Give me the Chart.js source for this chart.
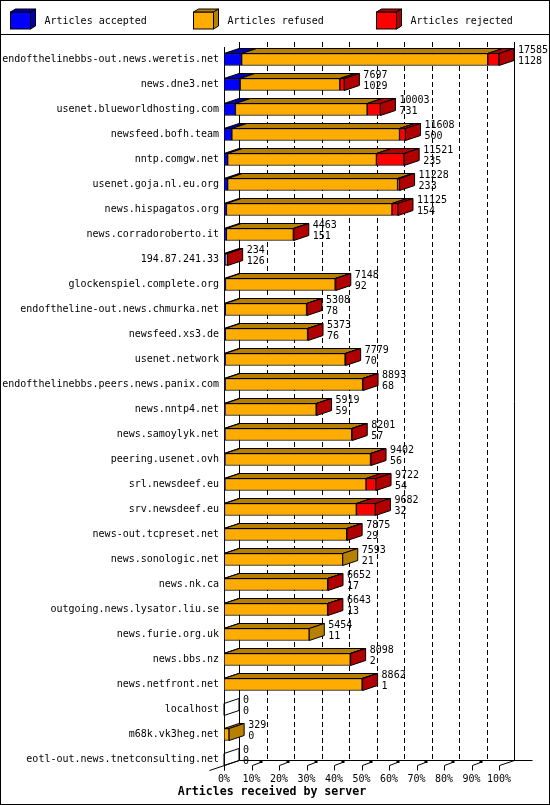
<!DOCTYPE html>
<html>
<head>
<meta charset="utf-8">
<script src="https://cdn.jsdelivr.net/npm/chart.js@4.4.0/dist/chart.umd.min.js"></script>
<style>
  html, body { margin: 0; padding: 0; background: #fff; }
  canvas { display: block; }
</style>
</head>
<body>
<canvas id="chart" width="550" height="805"></canvas>
<script>
// 数据
const servers = [
  'endofthelinebbs-out.news.weretis.net', 'news.dne3.net', 'usenet.blueworldhosting.com',
  'newsfeed.bofh.team', 'nntp.comgw.net', 'usenet.goja.nl.eu.org', 'news.hispagatos.org',
  'news.corradoroberto.it', '194.87.241.33', 'glockenspiel.complete.org',
  'endoftheline-out.news.chmurka.net', 'newsfeed.xs3.de', 'usenet.network',
  'endofthelinebbs.peers.news.panix.com', 'news.nntp4.net', 'news.samoylyk.net',
  'peering.usenet.ovh', 'srl.newsdeef.eu', 'srv.newsdeef.eu', 'news-out.tcpreset.net',
  'news.sonologic.net', 'news.nk.ca', 'outgoing.news.lysator.liu.se', 'news.furie.org.uk',
  'news.bbs.nz', 'news.netfront.net', 'localhost', 'm68k.vk3heg.net',
  'eotl-out.news.tnetconsulting.net'
];
const totals = [17585, 7697, 10003, 11608, 11521, 11228, 11125, 4463, 234, 7148,
  5308, 5373, 7779, 8893, 5919, 8201, 9402, 9722, 9682, 7875,
  7593, 6652, 6643, 5454, 8098, 8862, 0, 329, 0];
const accepted = [1128, 1029, 731, 500, 235, 233, 154, 151, 126, 92,
  78, 76, 70, 68, 59, 57, 56, 54, 32, 29,
  21, 17, 13, 11, 2, 1, 0, 0, 0];
// 拒绝数按图中红色段宽度估计
const rejected = [720, 290, 850, 385, 1775, 130, 385, 30, 30, 40,
  30, 30, 35, 30, 25, 30, 35, 640, 1220, 30,
  0, 25, 20, 0, 25, 30, 0, 0, 0];
const refused = totals.map((t, i) => Math.max(0, t - accepted[i] - rejected[i]));
const pctTicks = ['0%', '10%', '20%', '30%', '40%', '50%', '60%', '70%', '80%', '90%', '100%'];
const seriesNames = ['Articles accepted', 'Articles refused', 'Articles rejected'];

const faceColors = ['#0000ff', '#ffac00', '#ff0000'];
const shadeColors = ['#0000b0', '#b88000', '#b00000'];
const FONT = "'DejaVu Sans Mono', monospace";
const DX = 15, DY = 5;

Chart.defaults.font.family = FONT;
Chart.defaults.font.size = 10;
Chart.defaults.color = '#000';

// 多边形
function poly(ctx, pts, fill) {
  ctx.beginPath();
  ctx.moveTo(pts[0][0], pts[0][1]);
  for (let i = 1; i < pts.length; i++) ctx.lineTo(pts[i][0], pts[i][1]);
  ctx.closePath();
  if (fill) { ctx.fillStyle = fill; ctx.fill(); }
  ctx.strokeStyle = '#000';
  ctx.lineWidth = 1;
  ctx.stroke();
}

function line(ctx, x1, y1, x2, y2, dash) {
  ctx.save();
  ctx.setLineDash(dash || []);
  ctx.beginPath();
  ctx.moveTo(x1, y1);
  ctx.lineTo(x2, y2);
  ctx.strokeStyle = '#000';
  ctx.lineWidth = 1;
  ctx.stroke();
  ctx.restore();
}

// 3D 效果、图例、标题
const depthPlugin = {
  id: 'depth3d',
  beforeDraw(chart) {
    const ctx = chart.ctx;
    ctx.save();
    ctx.fillStyle = '#fff';
    ctx.fillRect(0, 0, chart.width, chart.height);
    ctx.restore();
  },
  beforeDatasetsDraw(chart) {
    const ctx = chart.ctx;
    const pct = chart.scales.pct;
    const area = chart.chartArea;
    const backBottom = 760.5, frontBottom = 765.5;
    ctx.save();
    pctTicks.forEach((_, i) => {
      const xf = Math.round(pct.getPixelForValue(i * 10)) + 0.5;
      const xb = xf + DX;
      const solid = i === 0 || i === pctTicks.length - 1;
      line(ctx, xb, 42, xb, backBottom, solid ? [] : [5, 3]);
      // 小刻度
      line(ctx, xf, frontBottom, xf, 770.5);
      if (i > 0 && i < pctTicks.length - 1) {
        line(ctx, xf, frontBottom, xf + 8, 762.5);
        ctx.fillStyle = '#000';
        ctx.fillRect(xf + 7, 760, 3, 3);
      }
    });
    const x0 = Math.round(pct.getPixelForValue(0)) + 0.5;
    const x100 = Math.round(pct.getPixelForValue(100)) + 0.5;
    line(ctx, x0 + DX, backBottom, x100 + DX + 18, backBottom);
    line(ctx, x0, area.top, x0, 770.5);
    line(ctx, x0 - DX, 770.5, x0 + DX, backBottom);
    line(ctx, x100, frontBottom, x100 + DX, backBottom);
    ctx.restore();
  },
  afterDatasetsDraw(chart) {
    const ctx = chart.ctx;
    const metas = [0, 1, 2].map(k => chart.getDatasetMeta(k));
    const series = [accepted, refused, rejected];
    ctx.save();
    servers.forEach((_, i) => {
      let lastK = -1;
      let y = 0, h = 12, xStart = chart.scales.x.getPixelForValue(0);
      for (let k = 0; k < 3; k++) {
        const el = metas[k].data[i].getProps(['x', 'y', 'base', 'height'], true);
        y = el.y; h = el.height;
        if (series[k][i] > 0) {
          const top = y - h / 2;
          const l = Math.min(el.x, el.base), r = Math.max(el.x, el.base);
          poly(ctx, [[l, top], [r, top], [r + DX, top - DY], [l + DX, top - DY]], shadeColors[k]);
          lastK = k;
        }
      }
      const top = y - h / 2, bottom = y + h / 2;
      const xe = lastK >= 0 ? metas[lastK].data[i].getProps(['x'], true).x : xStart;
      poly(ctx, [[xe, top], [xe + DX, top - DY], [xe + DX, bottom - DY], [xe, bottom]],
        lastK >= 0 ? shadeColors[lastK] : null);
      // 数值标签
      ctx.fillStyle = '#000';
      ctx.font = '10px ' + FONT;
      ctx.textAlign = 'left';
      ctx.textBaseline = 'middle';
      ctx.fillText(String(totals[i]), xe + DX + 4, y - 9.5);
      ctx.fillText(String(accepted[i]), xe + DX + 4, y + 1.5);
    });
    ctx.restore();
  },
  afterDraw(chart) {
    const ctx = chart.ctx;
    ctx.save();
    // 图例
    const legendX = [10.5, 193.5, 376.5];
    chart.data.datasets.forEach((ds, k) => {
      const x = legendX[k], y = 12;
      ctx.fillStyle = faceColors[k];
      ctx.fillRect(x, y, 20, 17);
      ctx.strokeStyle = '#000';
      ctx.lineWidth = 1;
      ctx.strokeRect(x, y, 20, 17);
      poly(ctx, [[x, y], [x + 5, y - 3], [x + 25, y - 3], [x + 20, y]], shadeColors[k]);
      poly(ctx, [[x + 20, y], [x + 25, y - 3], [x + 25, y + 14], [x + 20, y + 17]], shadeColors[k]);
      ctx.fillStyle = '#000';
      ctx.font = '10px ' + FONT;
      ctx.textAlign = 'left';
      ctx.textBaseline = 'middle';
      ctx.fillText(ds.label, x + 34, 21);
    });
    line(ctx, 0, 34.5, chart.width, 34.5);
    // 标题
    ctx.fillStyle = '#000';
    ctx.font = 'bold 11.6px ' + FONT;
    ctx.textAlign = 'center';
    ctx.textBaseline = 'middle';
    ctx.fillText('Articles received by server', 272, 791.5);
    // 外框
    ctx.strokeStyle = '#000';
    ctx.lineWidth = 1;
    ctx.strokeRect(0.5, 0.5, chart.width - 1, chart.height - 1);
    ctx.restore();
  }
};

const seriesData = [accepted, refused, rejected];

new Chart(document.getElementById('chart'), {
  type: 'bar',
  data: {
    labels: servers,
    datasets: seriesNames.map((name, k) => ({
      label: name,
      data: seriesData[k],
      backgroundColor: faceColors[k],
      borderColor: '#000',
      borderWidth: 1,
      borderSkipped: false,
      barThickness: 12
    }))
  },
  options: {
    indexAxis: 'y',
    responsive: false,
    animation: false,
    devicePixelRatio: 1,
    layout: { padding: { top: 47, right: 51, bottom: 0, left: 0 } },
    plugins: {
      legend: { display: false },
      tooltip: { enabled: false },
      title: { display: false }
    },
    scales: {
      y: {
        stacked: true,
        grid: { display: false, drawTicks: false },
        border: { display: false },
        ticks: { autoSkip: false, padding: 5, color: '#000', font: { size: 10 } },
        afterFit(s) { s.width = 224; }
      },
      x: {
        stacked: true,
        display: false,
        min: 0,
        max: Math.max(...totals)
      },
      pct: {
        axis: 'x',
        type: 'linear',
        position: 'bottom',
        min: 0,
        max: 100,
        grid: { display: false, drawTicks: false },
        border: { display: false },
        ticks: {
          stepSize: 10,
          padding: 1,
          autoSkip: false,
          maxRotation: 0,
          color: '#000',
          font: { size: 10 },
          callback: (v, i) => pctTicks[i]
        },
        afterFit(s) { s.height = 33; }
      }
    }
  },
  plugins: [depthPlugin]
});
</script>
</body>
</html>
